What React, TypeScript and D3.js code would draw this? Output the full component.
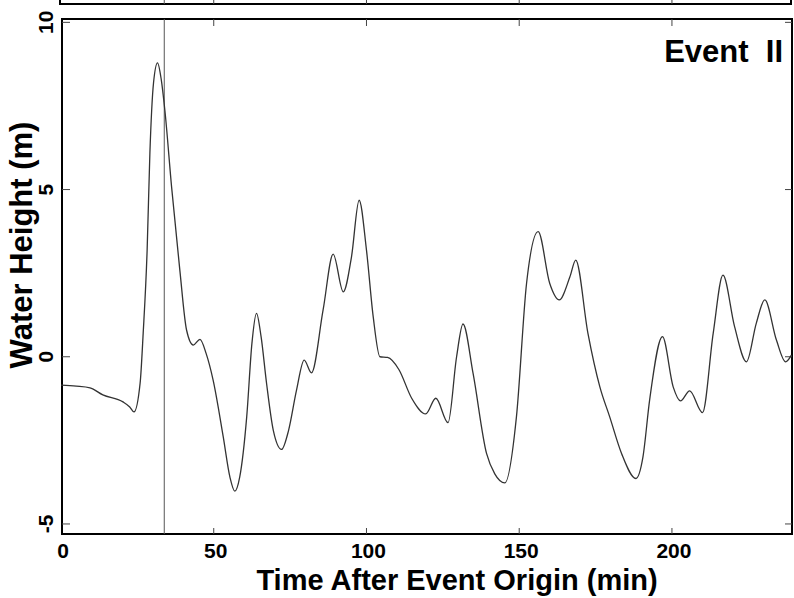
import React, { useEffect, useRef } from "react";
import * as d3 from "d3";

// time after event origin (min) and water height (m)
const times = [
  0, 5, 9.5, 13.7, 20.3, 22.5, 23.9, 25.9, 26.9, 28.2, 29.1, 30.3, 31.6, 32.8,
  34.0, 36.2, 38.9, 41.1, 43.3, 45.5, 47.5, 49.8, 53.1, 55.3, 56.9, 58.5, 60.8,
  62.5, 64.0, 65.5, 67.3, 69.5, 72.2, 74.5, 77.1, 79.6, 82.0, 85.8, 89.1, 92.4,
  95.1, 97.6, 100.0, 102.2, 104.4, 106.9, 110.6, 114.8, 119.4, 122.7, 126.7,
  129.5, 131.6, 134.9, 139.3, 142, 145.3, 149.1, 152.4, 156.2, 160.0, 163.1,
  166.6, 168.5, 172.5, 176.4, 179.6, 183.5, 188.2, 190.5, 192.7, 196.9, 200.4,
  202.8, 205.8, 210.0, 213.5, 216.7, 220.5, 224.4, 227.6, 230.4, 234.2, 237.2,
  239.1,
];
const heights = [
  -0.85, -0.88, -0.93, -1.14, -1.35, -1.5, -1.65, -0.79, 0.7, 3.2, 6.09, 8.2,
  8.79, 8.3, 7.37, 5.08, 2.59, 0.8, 0.35, 0.52, 0.1, -0.7, -2.39, -3.6, -4.02,
  -3.6, -1.79, 0.4, 1.3, 0.6, -0.8, -2.2, -2.77, -2.2, -1.0, -0.1, -0.48, 1.4,
  3.07, 1.94, 2.99, 4.68, 3.19, 1.2, 0.0, -0.02, -0.38, -1.24, -1.71, -1.24,
  -1.97, 0.0, 0.98, -0.5, -2.89, -3.5, -3.77, -1.79, 2.19, 3.74, 2.19, 1.7,
  2.39, 2.89, 0.7, -0.9, -1.79, -2.89, -3.64, -3.0, -1.29, 0.6, -0.9, -1.32,
  -1.02, -1.67, 0.7, 2.44, 0.9, -0.15, 1.0, 1.7, 0.5, -0.15, 0.05,
];
const xTicks = [0, 50, 100, 150, 200];
const yTicks = [10, 5, 0, -5];
const markerTime = 33.8;

const FONT = "'Liberation Sans', Arial, sans-serif";

const App = () => {
  const ref = useRef<SVGSVGElement>(null);

  useEffect(() => {
    const svg = d3.select(ref.current);
    svg.selectAll("*").remove();

    const left = 62, right = 792, top = 19, bottom = 534;
    const x = d3.scaleLinear().domain([0, 239.3]).range([61, 792]);
    const y = d3.scaleLinear().domain([-5.3, 10.1]).range([bottom, top]);

    // strip of the panel above
    svg.append("path")
      .attr("d", `M60,-2V4H791V-2`)
      .attr("fill", "none").attr("stroke", "#000").attr("stroke-width", 2);
    svg.selectAll(".uptick").data(xTicks.slice(1)).enter().append("line")
      .attr("x1", (d) => x(d)).attr("x2", (d) => x(d))
      .attr("y1", 0).attr("y2", 4)
      .attr("stroke", "#444").attr("stroke-width", 1);
    svg.append("line")
      .attr("x1", x(markerTime)).attr("x2", x(markerTime))
      .attr("y1", 0).attr("y2", 4)
      .attr("stroke", "#555").attr("stroke-width", 1);

    // frame
    svg.append("rect")
      .attr("x", left).attr("y", top)
      .attr("width", right - left).attr("height", bottom - top)
      .attr("fill", "none").attr("stroke", "#000").attr("stroke-width", 2);

    // inward ticks on all four sides
    const g = svg.append("g").attr("stroke", "#444").attr("stroke-width", 1);
    xTicks.slice(1).forEach((t) => {
      g.append("line").attr("x1", x(t)).attr("x2", x(t))
        .attr("y1", bottom).attr("y2", bottom - 6);
      g.append("line").attr("x1", x(t)).attr("x2", x(t))
        .attr("y1", top).attr("y2", top + 7);
    });
    yTicks.forEach((v) => {
      g.append("line").attr("x1", left).attr("x2", left + 8)
        .attr("y1", y(v)).attr("y2", y(v));
      g.append("line").attr("x1", right).attr("x2", right - 7)
        .attr("y1", y(v)).attr("y2", y(v));
    });

    // marker line
    svg.append("line")
      .attr("x1", x(markerTime)).attr("x2", x(markerTime))
      .attr("y1", top).attr("y2", bottom)
      .attr("stroke", "#555").attr("stroke-width", 1);

    // series
    const data = times.map((t, i) => ({ t, v: heights[i] }));
    const line = d3.line<{ t: number; v: number }>()
      .x((d) => x(d.t))
      .y((d) => y(d.v))
      .curve(d3.curveMonotoneX);
    svg.append("path")
      .attr("d", line(data))
      .attr("fill", "none")
      .attr("stroke", "#333")
      .attr("stroke-width", 1.3);

    // tick labels
    svg.selectAll(".xl").data(xTicks).enter().append("text")
      .attr("x", (d) => x(d) + 2).attr("y", 558)
      .attr("text-anchor", "middle")
      .attr("font-family", FONT).attr("font-weight", "bold").attr("font-size", 21)
      .text((d) => d);
    svg.selectAll(".yl").data(yTicks).enter().append("text")
      .attr("transform", (d) => `translate(53,${y(d)}) rotate(-90)`)
      .attr("text-anchor", "middle")
      .attr("font-family", FONT).attr("font-weight", "bold").attr("font-size", 21)
      .text((d) => d);

    // titles
    svg.append("text")
      .attr("x", 457).attr("y", 590)
      .attr("text-anchor", "middle")
      .attr("font-family", FONT).attr("font-weight", "bold").attr("font-size", 29)
      .text("Time After Event Origin (min)");
    svg.append("text")
      .attr("transform", "translate(32,245) rotate(-90)")
      .attr("text-anchor", "middle")
      .attr("font-family", FONT).attr("font-weight", "bold").attr("font-size", 31)
      .text("Water Height (m)");
    svg.append("text")
      .attr("x", 783).attr("y", 62)
      .attr("text-anchor", "end")
      .style("white-space", "pre")
      .attr("font-family", FONT).attr("font-weight", "bold").attr("font-size", 31)
      .text("Event  II");
  }, []);

  return (
    <svg
      ref={ref}
      width={794}
      height={598}
      style={{ position: "absolute", left: 0, top: 0, background: "#fff" }}
    />
  );
};

export default App;
